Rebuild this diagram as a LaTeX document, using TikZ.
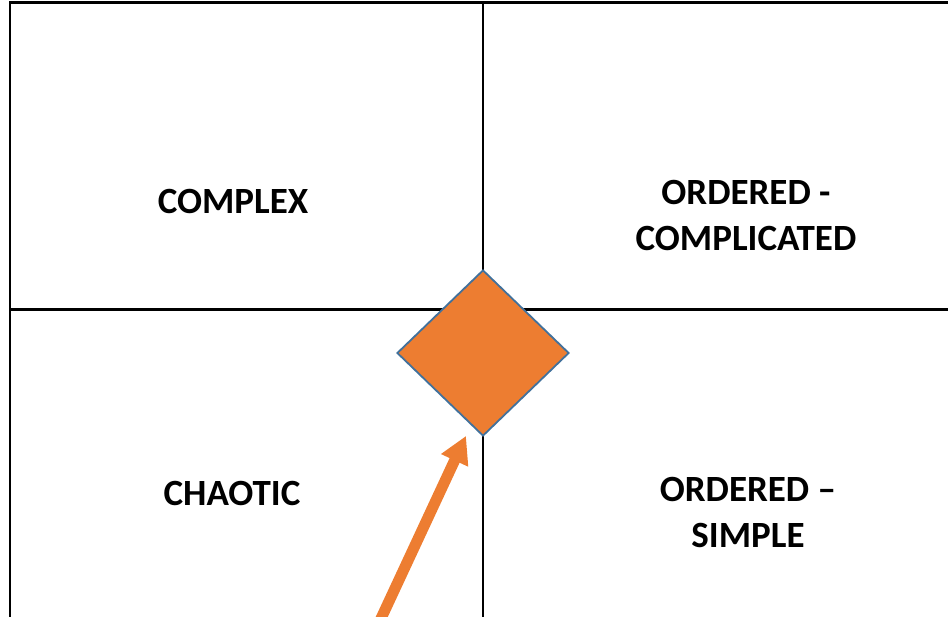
\documentclass[tikz,border=0pt]{standalone}
\usepackage{fontspec}
\setmainfont{Carlito}
\usetikzlibrary{arrows.meta,shapes.geometric,calc}
\definecolor{accent}{HTML}{ED7D31}
\definecolor{rim}{HTML}{41719C}
\begin{document}
\begin{tikzpicture}[x=1pt, y=-1pt,
  quad/.style={font=\bfseries\fontsize{37}{46}\selectfont, align=center}]
  \useasboundingbox (0,0) rectangle (948,616);
  \clip (0,0) rectangle (948,616);

  % Grid
  \draw[line width=2.4pt] (10,2.5) rectangle (970,640);
  \draw[line width=2.4pt] (483,2.5) -- (483,640);
  \draw[line width=2.4pt] (10,309.5) -- (970,309.5);

  % Quadrant labels
  \node[quad] (complex) at (233,201) {COMPLEX};
  \node[quad] (complicated) at (746,215) {ORDERED -\\COMPLICATED};
  \node[quad] (chaotic) at (232,493) {CHAOTIC};
  \node[quad] (simple) at (748,512) {ORDERED --\\SIMPLE};

  % Centre marker
  \node[diamond, draw=rim, fill=accent, line width=1.8pt, inner sep=0pt,
        minimum width=172pt, minimum height=166pt] (centre) at (483,353) {};

  % Arrow
  \coordinate (tail) at (371,640);
  \coordinate (tip) at ($(centre.south)+(-17,-1)$);
  \draw[accent, line width=11pt, -{Triangle[length=27pt, width=28pt]}] (tail) -- (tip);

\end{tikzpicture}
\end{document}
